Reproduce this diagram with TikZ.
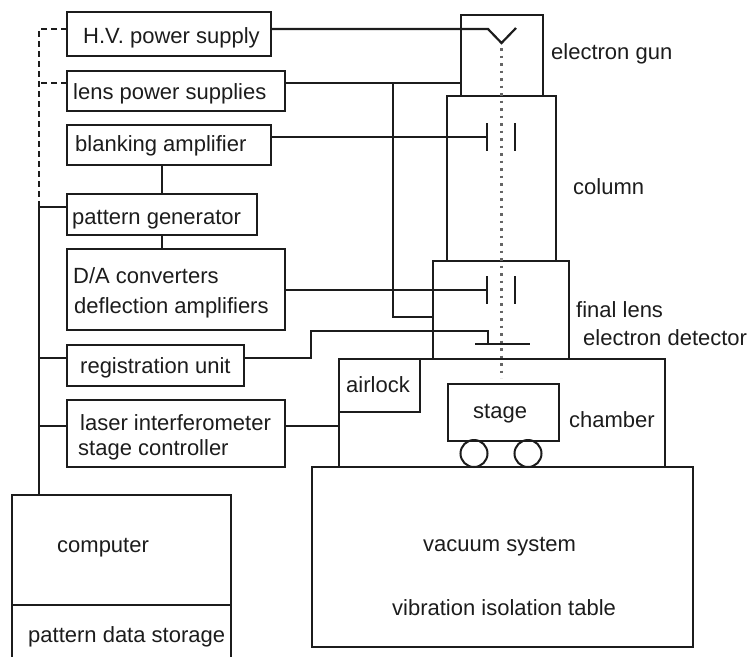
\documentclass[tikz,border=0pt]{standalone}
\usepackage{fontspec}
\setmainfont{Liberation Sans}
\usepackage{xcolor}
\usetikzlibrary{positioning, calc}
\definecolor{InkBlack}{HTML}{1C1C1C}
\definecolor{BeamGray}{HTML}{666666}
\tikzset{
    unit/.style={draw=InkBlack, line width=2pt, inner sep=0pt, outer sep=0pt},
    heavy/.style={draw=InkBlack, line width=2.7pt, inner sep=0pt, outer sep=0pt},
    lbl/.style={anchor=base west, inner sep=0pt, text=InkBlack, font=\fontsize{22}{26}\selectfont},
    wire/.style={draw=InkBlack, line width=1.4pt},
    thick wire/.style={draw=InkBlack, line width=2.2pt},
    ctrl wire/.style={draw=InkBlack, line width=1.9pt, dash pattern=on 6pt off 4pt},
    beam/.style={draw=BeamGray, line width=2.6pt, dash pattern=on 2.5pt off 5pt}
}

\begin{document}
\begin{tikzpicture}[x=1pt, y=-1pt]
    \useasboundingbox (0,0) rectangle (748,657);

    % Electronics rack on the left
    \foreach \name/\x/\y/\w/\h in {hv/67/12/204/44, lens/67/71/218/40, blank/67/125/204/40,
        pattern/67/194/190/41, conv/67/249/218/81, reg/67/345/177/41, laser/67/400/218/67,
        computer/12/495/219/110} {
        \node[unit, minimum width=\w pt, minimum height=\h pt] (\name) at (\x+\w/2, \y+\h/2) {};
    }
    \node[minimum width=219pt, minimum height=52pt, inner sep=0pt, outer sep=0pt] (storage)
        at (121.5, 631) {};

    % Microscope body
    \foreach \name/\x/\y/\w/\h in {gun/461/15/82/81, column/447/96/109/165, final/433/261/136/98,
        chamber/339/359/326/108, table/312/467/381/180} {
        \node[heavy, minimum width=\w pt, minimum height=\h pt] (\name) at (\x+\w/2, \y+\h/2) {};
    }
    \foreach \name/\x/\y/\w/\h in {airlock/339/359/81/53, stage/448/384/111/57} {
        \node[unit, minimum width=\w pt, minimum height=\h pt] (\name) at (\x+\w/2, \y+\h/2) {};
    }
    \foreach \name/\x in {wheela/474, wheelb/528} {
        \node[circle, unit, minimum size=27pt] (\name) at (\x, 453.5) {};
    }

    % Texts
    \foreach \name/\x/\y/\txt in {thv/83/43/{H.V. power supply}, tlens/73/99/{lens power supplies},
        tblank/75/151/{blanking amplifier}, tpattern/72/224/{pattern generator},
        tconva/73/283/{D/A converters}, tconvb/74/313/{deflection amplifiers},
        treg/80/373/{registration unit}, tlasera/80/430/{laser interferometer},
        tlaserb/78/455/{stage controller}, tcomputer/57/552/{computer},
        tstorage/28/642/{pattern data storage}, tgun/551/59/{electron gun},
        tcolumn/573/194/{column}, tfinal/576/317/{final lens},
        tdetector/583/345/{electron detector}, tairlock/346/392/{airlock},
        tstage/473/418/{stage}, tchamber/569/427/{chamber},
        tvacuum/423/551/{vacuum system}, ttable/392/615/{vibration isolation table}} {
        \node[lbl] (\name) at (\x, \y) {\txt};
    }

    % Junctions, plates and the beam
    \coordinate (filament) at (488, 29);
    \coordinate (tip) at (501.5, 43);
    \coordinate (filamentend) at (516, 28);
    \coordinate (lensbus) at (393, 83);
    \coordinate (lensin) at (393, 317);
    \coordinate (blankplate) at (487, 137);
    \coordinate (blankplateb) at (515, 137);
    \coordinate (defplate) at (487, 290);
    \coordinate (defplateb) at (515, 290);
    \coordinate (regturn) at (311, 358);
    \coordinate (regtop) at (311, 331);
    \coordinate (detstem) at (488, 331);
    \coordinate (detector) at (488, 344);
    \coordinate (busup) at (39, 29);
    \coordinate (buspat) at (39, 207);
    \coordinate (busreg) at (39, 358);
    \coordinate (buslaser) at (39, 426);
    \coordinate (buslens) at (39, 83);
    \coordinate (feed) at (162, 0);
    \coordinate (beamtop) at (501.5, 48);
    \coordinate (beambot) at (501.5, 378);

    \draw[beam] (beamtop) -- (beambot);

    % Supply and signal lines
    \draw[thick wire] (hv.east |- filament) -- (filament) -- (tip) -- (filamentend);
    \draw[wire] (lens.east |- lensbus) -- (gun.west |- lensbus);
    \draw[thick wire] (lensbus) -- (lensin) -- (final.west |- lensin);
    \draw[wire] (blank.east |- blankplate) -- (blankplate);
    \draw[wire] (conv.east |- defplate) -- (defplate);
    \draw[thick wire] (reg.east |- regturn) -- (regturn) -- (regtop) -- (detstem) -- (detector);
    \draw[wire] (laser.east |- buslaser) -- (chamber.west |- buslaser);
    \draw[thick wire] (blank.south -| feed) -- (pattern.north -| feed);
    \draw[thick wire] (pattern.south -| feed) -- (conv.north -| feed);

    % Deflection plates and detector
    \foreach \c in {blankplate, blankplateb, defplate, defplateb} {
        \draw[thick wire] ($(\c)+(0,-14)$) -- ($(\c)+(0,14)$);
    }
    \draw[thick wire] ($(detector)+(-13,0)$) -- ($(detector)+(42,0)$);

    % Computer bus
    \draw[thick wire] (buspat) -- (computer.north -| buspat);
    \draw[thick wire] (buspat) -- (pattern.west |- buspat);
    \draw[thick wire] (busreg) -- (reg.west |- busreg);
    \draw[wire] (buslaser) -- (laser.west |- buslaser);
    \draw[ctrl wire] (hv.west |- busup) -- (busup) -- (buspat);
    \draw[ctrl wire] (lens.west |- buslens) -- (buslens);

    % Storage section runs off the page
    \draw[thick wire] (computer.south west) -- (storage.south west);
    \draw[thick wire] (computer.south east) -- (storage.south east);
\end{tikzpicture}
\end{document}
